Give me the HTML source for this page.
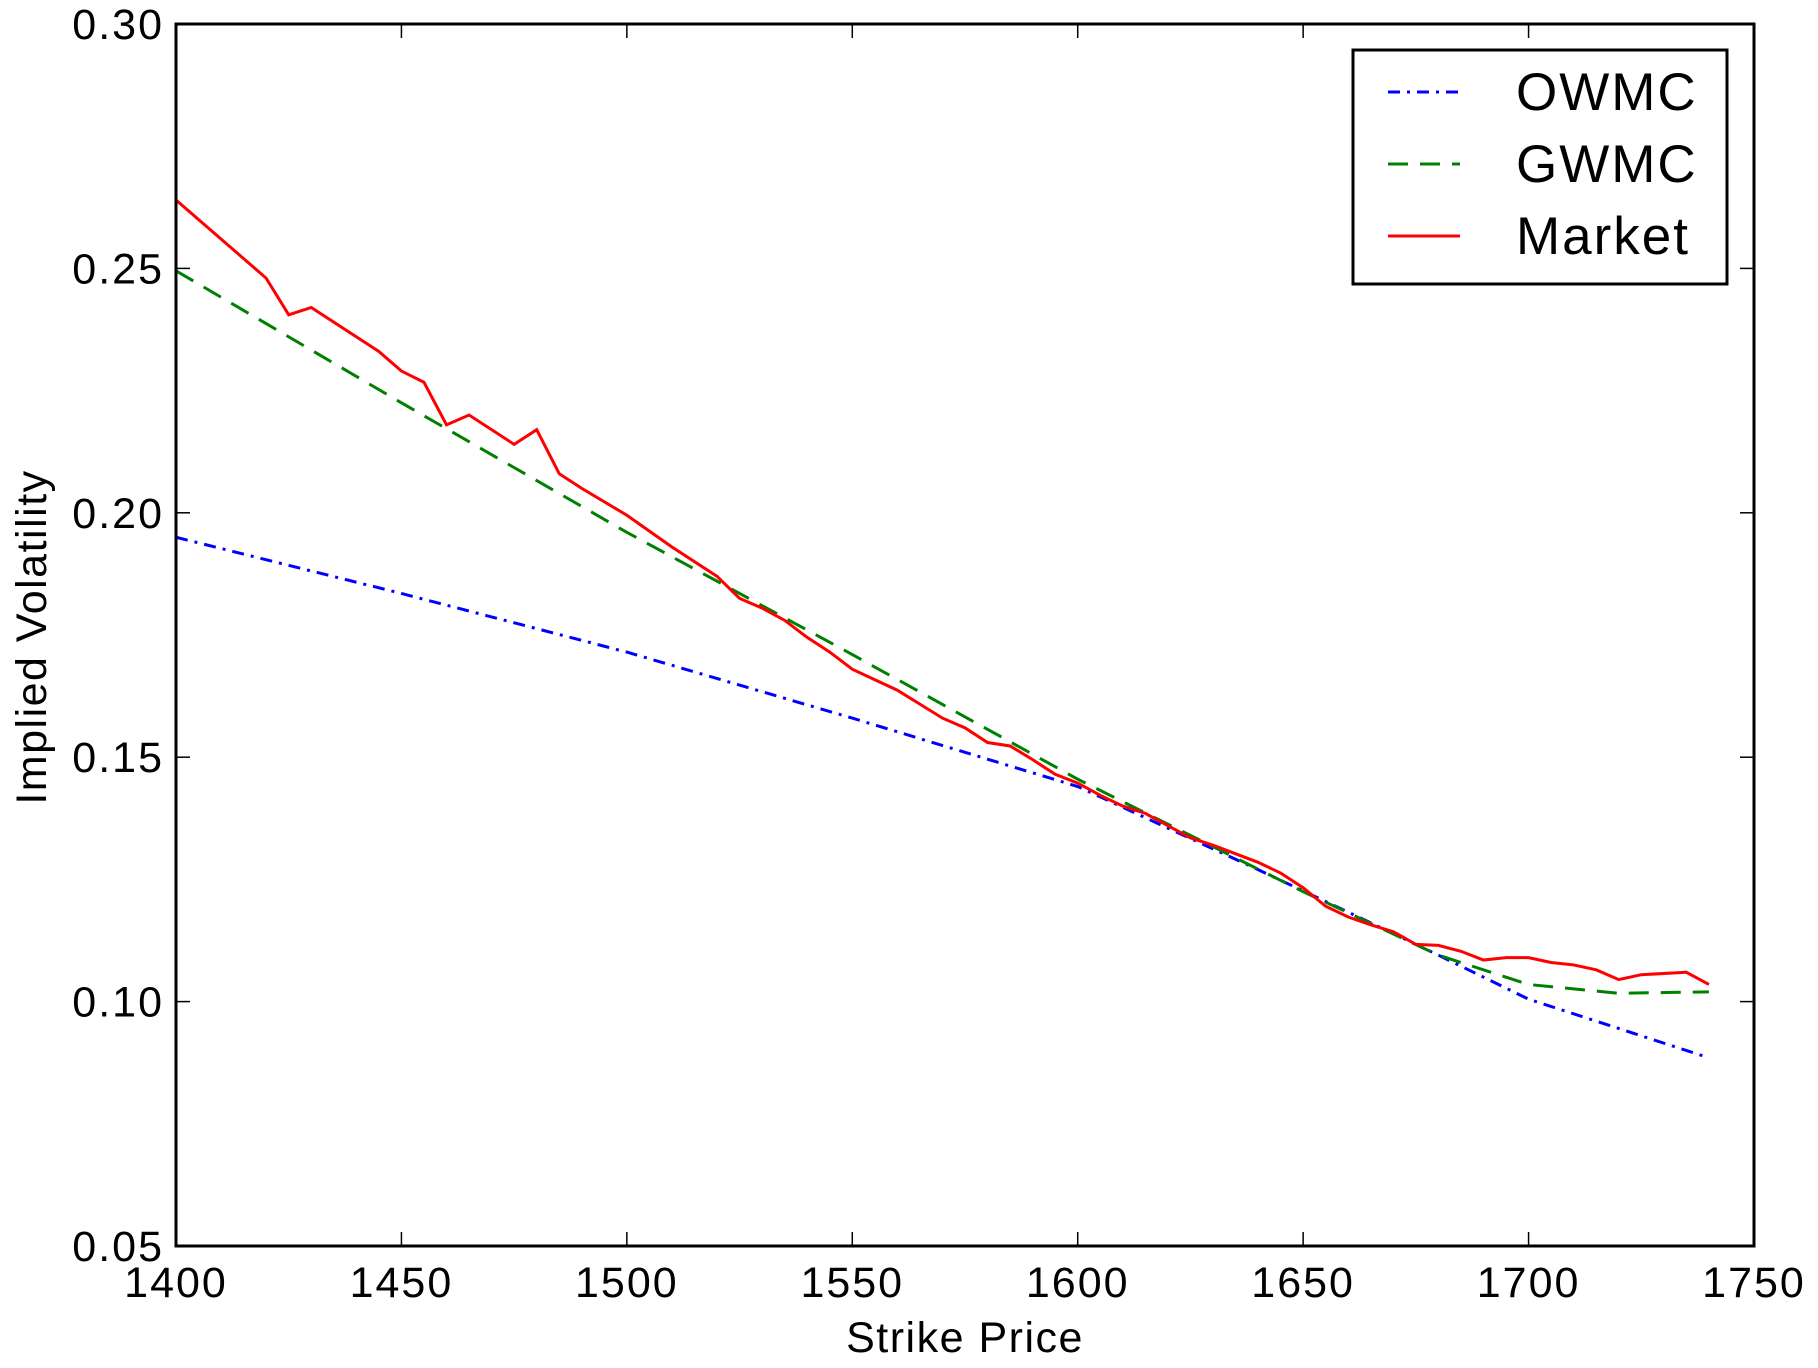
<!DOCTYPE html>
<html><head><meta charset="utf-8"><style>
html,body{margin:0;padding:0;background:#fff;}
svg text{font-family:"Liberation Sans",sans-serif;fill:#000;}
</style></head><body>
<svg id="s" width="1818" height="1363" viewBox="0 0 1818 1363" xmlns="http://www.w3.org/2000/svg">
<rect width="1818" height="1363" fill="#fff"/>
<g id="ticks" stroke="#000" stroke-width="1.5"></g>
<g id="lines" fill="none" stroke-width="3"></g>
<rect x="176" y="24" width="1578" height="1222" fill="none" stroke="#000" stroke-width="3"/>
<g id="labels" font-size="43"></g>
<text x="965" y="1352" font-size="43" text-anchor="middle" letter-spacing="1.5">Strike Price</text>
<text transform="translate(46,637) rotate(-90)" font-size="43" text-anchor="middle" letter-spacing="1.5">Implied Volatility</text>
<rect x="1353" y="50" width="374" height="234" fill="#fff" stroke="#000" stroke-width="3"/>
<line x1="1388" y1="92" x2="1460" y2="92" stroke="#0000ff" stroke-width="3" stroke-dasharray="12,7,3,7"/>
<line x1="1388" y1="164" x2="1460" y2="164" stroke="#008000" stroke-width="3" stroke-dasharray="20,12"/>
<line x1="1388" y1="236" x2="1460" y2="236" stroke="#ff0000" stroke-width="3"/>
<text x="1516" y="110" font-size="53" letter-spacing="2">OWMC</text>
<text x="1516" y="182" font-size="53" letter-spacing="2">GWMC</text>
<text x="1516" y="254" font-size="53" letter-spacing="2">Market</text>
</svg>
<script>
var X=function(v){return 176+(v-1400)*1578/350;},Y=function(v){return 24+(0.30-v)*1222/0.25;};
var NS="http://www.w3.org/2000/svg";
function el(p,t,a,txt){var e=document.createElementNS(NS,t);for(var k in a)e.setAttribute(k,a[k]);if(txt)e.textContent=txt;p.appendChild(e);return e;}
var tk=document.getElementById('ticks'),lb=document.getElementById('labels'),ln=document.getElementById('lines');
for(var x=1400;x<=1750;x+=50){var px=X(x);el(tk,'line',{x1:px,y1:1246,x2:px,y2:1232});el(tk,'line',{x1:px,y1:24,x2:px,y2:38});
el(lb,'text',{x:px,y:1297,'text-anchor':'middle','letter-spacing':'2'},String(x));}
var yt=['0.05','0.10','0.15','0.20','0.25','0.30'];
yt.forEach(function(s){var py=Y(parseFloat(s));el(tk,'line',{x1:176,y1:py,x2:190,y2:py});el(tk,'line',{x1:1754,y1:py,x2:1740,y2:py});
el(lb,'text',{x:164,y:py+15,'text-anchor':'end','letter-spacing':'2'},s);});
function pl(d,c,da){el(ln,'polyline',{points:d.map(function(p){return X(p[0])+','+Y(p[1]);}).join(' '),stroke:c,'stroke-dasharray':da||'none'});}
var ow=[[1400,0.195],[1450,0.1835],[1500,0.1715],[1550,0.158],[1600,0.144],[1620,0.1355],[1640,0.127],[1660,0.1183],[1680,0.1095],[1700,0.1005],[1740,0.0885]];
var gw=[[1400,0.2495],[1450,0.2225],[1500,0.196],[1550,0.171],[1600,0.1455],[1650,0.1225],[1680,0.1095],[1700,0.1035],[1720,0.1017],[1740,0.102]];
var mk=[[1400,0.264],[1420,0.248],[1425,0.2405],[1430,0.242],[1445,0.233],[1450,0.229],[1455,0.2267],[1460,0.218],[1465,0.22],[1475,0.214],[1480,0.217],[1485,0.208],[1490,0.205],[1500,0.1995],[1510,0.193],[1520,0.187],[1525,0.1825],[1530,0.1805],[1535,0.178],[1540,0.1745],[1545,0.1715],[1550,0.168],[1560,0.1637],[1570,0.158],[1575,0.156],[1580,0.153],[1585,0.1523],[1590,0.1495],[1595,0.1465],[1600,0.1447],[1605,0.1422],[1610,0.14],[1615,0.1385],[1620,0.136],[1625,0.1335],[1630,0.132],[1640,0.1285],[1645,0.1263],[1650,0.1233],[1655,0.1195],[1660,0.1173],[1665,0.1157],[1670,0.1143],[1675,0.1117],[1680,0.1115],[1685,0.1103],[1690,0.1085],[1695,0.109],[1700,0.109],[1705,0.108],[1710,0.1075],[1715,0.1065],[1720,0.1045],[1725,0.1055],[1735,0.106],[1740,0.1035]];
pl(ow,'#0000ff','12,7,3,7');pl(gw,'#008000','20,12');pl(mk,'#ff0000');
</script>
</body></html>
